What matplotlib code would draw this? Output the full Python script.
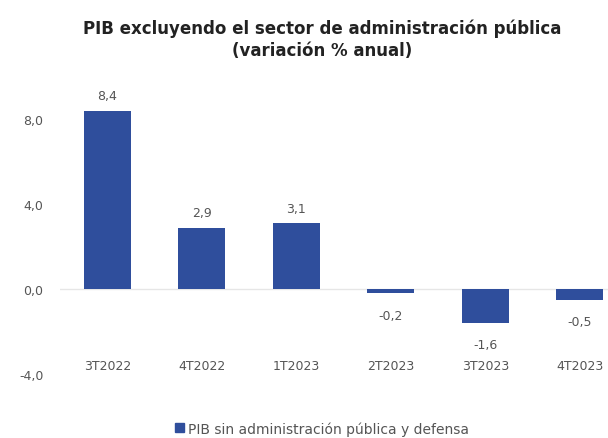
import matplotlib.pyplot as plt
from matplotlib.patches import Patch

quarters = ["3T2022", "4T2022", "1T2023", "2T2023", "3T2023", "4T2023"]
values = [8.4, 2.9, 3.1, -0.2, -1.6, -0.5]
yticks = [-4.0, 0.0, 4.0, 8.0]

BAR_COLOR = "#2f4e9c"
TEXT_COLOR = "#555555"


def fmt(v):
    return f"{v:.1f}".replace(".", ",")


fig = plt.figure(figsize=(6.08, 4.39), dpi=100)
ax = fig.add_axes([60 / 608, 64 / 439, 567 / 608, 276 / 439])

x = range(len(quarters))
ax.bar(x, values, width=0.5, color=BAR_COLOR, zorder=2)
ax.axhline(0, color="#e6e6e6", linewidth=1, zorder=1)

for xi, v in zip(x, values):
    off = 6 if v >= 0 else -11
    ax.annotate(fmt(v), (xi, v), xytext=(0, off), textcoords="offset points",
                ha="center", va="bottom" if v >= 0 else "top",
                fontsize=9, color=TEXT_COLOR)

ax.set_xlim(-0.5, 5.5)
ax.set_ylim(-4, 9)
ax.set_yticks(yticks)
ax.set_yticklabels([fmt(t) for t in yticks])
ax.set_xticks(list(x))
ax.set_xticklabels(quarters)
ax.tick_params(length=0, labelsize=9, labelcolor=TEXT_COLOR)
ax.tick_params(axis="y", pad=12)
ax.tick_params(axis="x", pad=-11)
for s in ax.spines.values():
    s.set_visible(False)

fig.text(0.53, 0.91, "PIB excluyendo el sector de administración pública\n(variación % anual)",
         ha="center", va="center", fontsize=12, fontweight="bold", color="#222222",
         linespacing=1.3)

fig.legend(handles=[Patch(color=BAR_COLOR, label="PIB sin administración pública y defensa")],
           loc="center", bbox_to_anchor=(0.53, 0.022), frameon=False,
           handlelength=0.6, handleheight=0.6, handletextpad=0.3,
           fontsize=10, labelcolor=TEXT_COLOR)

fig.savefig("out.png", dpi=100)
